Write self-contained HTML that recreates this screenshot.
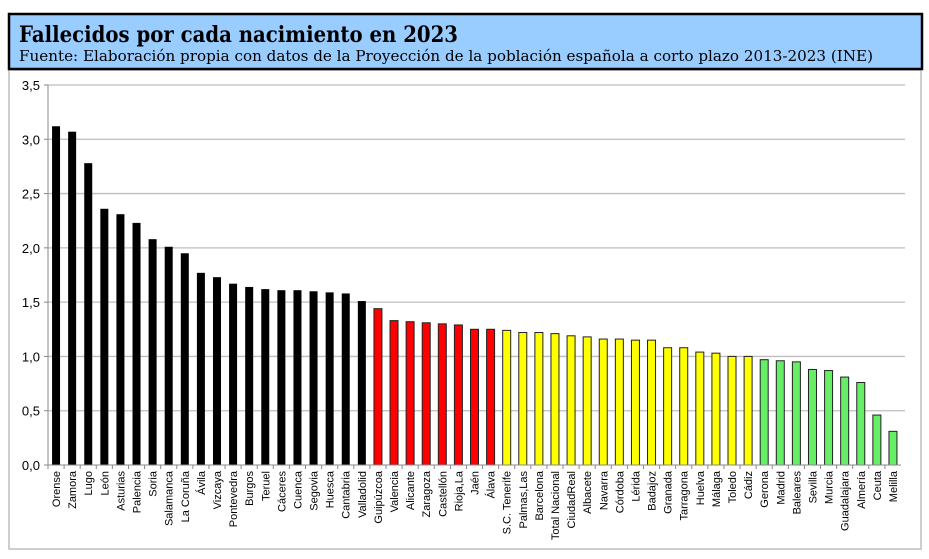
<!DOCTYPE html>
<html><head><meta charset="utf-8"><style>
body{margin:0;width:929px;height:559px;background:#fff;overflow:hidden}
svg{display:block}
</style></head><body>
<svg width="929" height="559">
<rect x="9" y="70" width="912" height="479" fill="#fff" stroke="#bdbdbd" stroke-width="1.5"/>
<rect x="9" y="14" width="913" height="55" fill="#99ccff" stroke="#000" stroke-width="2.5"/>
<text x="19" y="42" font-family="DejaVu Serif, serif" font-weight="bold" font-size="22" textLength="439" lengthAdjust="spacingAndGlyphs">Fallecidos por cada nacimiento en 2023</text>
<text x="19" y="61" font-family="DejaVu Serif, serif" font-size="14.5" textLength="854" lengthAdjust="spacingAndGlyphs">Fuente: Elaboración propia con datos de la Proyección de la población española a corto plazo 2013-2023 (INE)</text>
<g id="grid"></g><g id="bars"></g><g id="axes"></g>
</svg>
<script>
const categories=["Orense","Zamora","Lugo","León","Asturias","Palencia","Soria","Salamanca","La Coruña","Ávila","Vizcaya","Pontevedra","Burgos","Teruel","Cáceres","Cuenca","Segovia","Huesca","Cantabria","Valladolid","Guipúzcoa","Valencia","Alicante","Zaragoza","Castellón","Rioja,La","Jaén","Álava","S.C. Tenerife","Palmas,Las","Barcelona","Total Nacional","CiudadReal","Albacete","Navarra","Córdoba","Lérida","Badajoz","Granada","Tarragona","Huelva","Málaga","Toledo","Cádiz","Gerona","Madrid","Baleares","Sevilla","Murcia","Guadalajara","Almería","Ceuta","Melilla"];
const values=[3.12,3.07,2.78,2.36,2.31,2.23,2.08,2.01,1.95,1.77,1.73,1.67,1.64,1.62,1.61,1.61,1.60,1.59,1.58,1.51,1.44,1.33,1.32,1.31,1.30,1.29,1.25,1.25,1.24,1.22,1.22,1.21,1.19,1.18,1.16,1.16,1.15,1.15,1.08,1.08,1.04,1.03,1.00,1.00,0.97,0.96,0.95,0.88,0.87,0.81,0.76,0.46,0.31];
const groupSizes=[20,8,16,9];
const groupColors=["#000000","#ff0000","#ffff00","#66ee66"];
const yTicks=[0,0.5,1,1.5,2,2.5,3,3.5];
const NS="http://www.w3.org/2000/svg";
const X0=48,X1=901,Y0=465,Y1=85,YMAX=3.5;
const bw=(X1-X0)/categories.length;
const y=v=>Y0-(v/YMAX)*(Y0-Y1);
const xc=i=>X0+bw*(i+0.5);
function mk(t,a,p){const e=document.createElementNS(NS,t);for(const k in a)e.setAttribute(k,a[k]);p.appendChild(e);return e;}
const grid=document.getElementById('grid'),bars=document.getElementById('bars'),axes=document.getElementById('axes');
yTicks.forEach(t=>{
 if(t>0){const l=mk('line',{x1:X0,x2:X1+4,y1:y(t),y2:y(t),stroke:'#bdbdbd','stroke-width':1.3},grid);
 
 }
 mk('line',{x1:X0-4,x2:X0,y1:y(t),y2:y(t),stroke:'#888'},axes);
 const tx=mk('text',{x:X0-8,y:y(t)+5,'text-anchor':'end','font-family':'Liberation Sans, sans-serif','font-size':13},axes);
 tx.textContent=t.toFixed(1).replace('.',',');
 
 
});
let gi=0,cnt=0;
categories.forEach((c,i)=>{
 if(cnt>=groupSizes[gi]){gi++;cnt=0;}cnt++;
 const col=groupColors[gi];
 const r=mk('rect',{x:xc(i)-4,y:y(values[i]),width:8,height:Y0-y(values[i]),fill:col,stroke:gi==0?'#000':'#222','stroke-width':gi==0?0:1},bars);
 
 
 mk('line',{x1:X0+bw*i,x2:X0+bw*i,y1:Y0,y2:Y0+4,stroke:'#888'},axes);
 const tx=mk('text',{transform:`translate(${xc(i)+4},${Y0+6}) rotate(-90)`,'text-anchor':'end','font-family':'Liberation Sans, sans-serif','font-size':11},axes);
 tx.textContent=c;
 
 
});
mk('line',{x1:X0,x2:X0,y1:Y1,y2:Y0,stroke:'#888'},axes);
const xa=mk('line',{x1:X0,x2:X1,y1:Y0,y2:Y0,stroke:'#888'},axes);


</script>
</body></html>
